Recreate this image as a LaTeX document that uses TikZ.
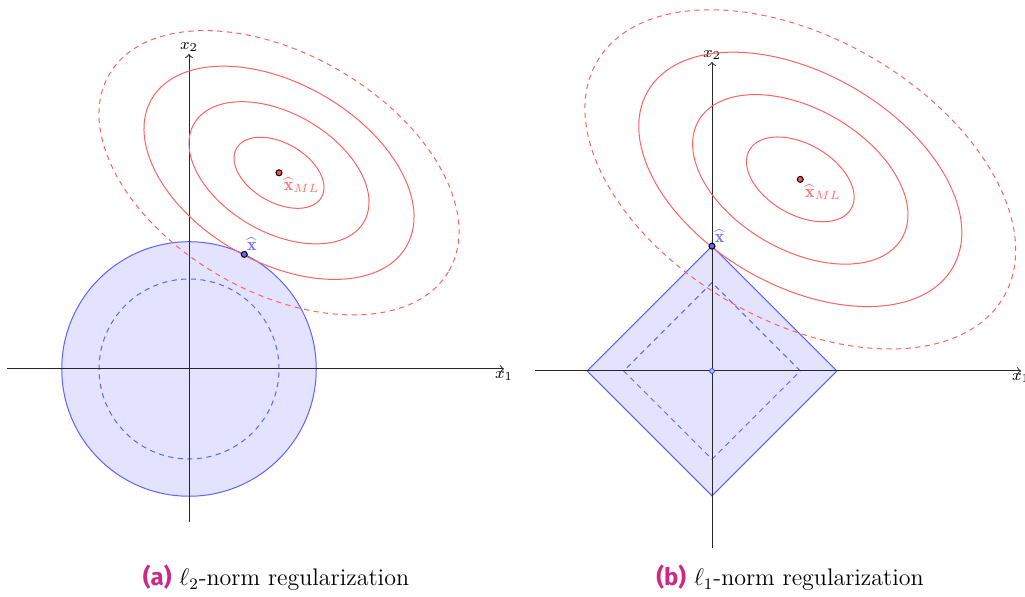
\documentclass[tikz,border=0pt]{standalone}
\usepackage{amsmath,amssymb}
\usepackage{fontspec}
\newfontfamily\tagfont{Fira Sans}
\usepackage{xcolor}
\usepackage{tikz}
\usetikzlibrary{positioning}
\definecolor{tagpink}{RGB}{205,40,135}
\tikzset{
  axisline/.style={->,line width=0.5pt,black!85},
  levelline/.style={line width=0.5pt,red!62},
  outerlevel/.style={levelline,dash pattern=on 2.6pt off 2.2pt},
  ballregion/.style={line width=0.5pt,draw=blue!62,fill=blue!11},
  innerball/.style={line width=0.5pt,blue!62,dash pattern=on 2.6pt off 2.2pt},
  mlpoint/.style={circle,draw=black,fill=red!70,line width=0.5pt,
    minimum size=3pt,inner sep=0pt},
  estpoint/.style={circle,draw=black,fill=blue!60,line width=0.5pt,
    minimum size=3pt,inner sep=0pt},
  originpoint/.style={circle,draw=blue!70,fill=blue!25,line width=0.5pt,
    minimum size=2.4pt,inner sep=0pt},
  axislabel/.style={font=\fontsize{8}{9}\selectfont,inner sep=1pt},
  mllabel/.style={font=\fontsize{9}{10}\selectfont,text=red!55,inner sep=1pt},
  estlabel/.style={font=\fontsize{9}{10}\selectfont,text=blue!55,inner sep=1pt},
  captext/.style={font=\fontsize{12}{14}\selectfont,inner sep=0pt,anchor=base}
}

\begin{document}
\begin{tikzpicture}
  \useasboundingbox (0,0) rectangle (512.5pt,298.5pt);

  \begin{scope}[shift={(94.5pt,114pt)},x=45pt,y=45pt]
    \draw[ballregion] (0,0) circle [radius=1.414];
    \draw[innerball] (0,0) circle [radius=1];
    \coordinate (xA0) at (-2.02,0);
    \coordinate (xA1) at (3.5,0);
    \coordinate (yA0) at (0,-1.7);
    \coordinate (yA1) at (0,3.5);
    \draw[axisline] (xA0) -- (xA1);
    \draw[axisline] (yA0) -- (yA1);
    \node[axislabel,anchor=north] (xlabA) at (xA1) {$x_1$};
    \node[axislabel,anchor=south] (ylabA) at (yA1) {$x_2$};
    \coordinate (cA) at (1.0,2.18);
    \foreach \k in {1,2,3}
      \draw[levelline,rotate around={-30:(cA)}] (cA)
        ellipse [x radius=0.545*\k, y radius=0.33*\k];
    \draw[outerlevel,rotate around={-30:(cA)}] (cA)
      ellipse [x radius=2.18, y radius=1.32];
    \node[mlpoint] (mlA) at (cA) {};
    \node[estpoint] (estA) at (64.25:1.414) {};
    \node[mllabel,below right=0pt and 0pt of mlA] (mltA)
      {$\widehat{\mathbf{x}}_{ML}$};
    \node[estlabel,above right=-0.5pt and -1pt of estA] (esttA)
      {$\widehat{\mathbf{x}}$};
  \end{scope}

  \begin{scope}[shift={(356pt,113pt)},x=44.15pt,y=44.15pt]
    \draw[ballregion] (1.414,0) -- (0,1.414) -- (-1.414,0) -- (0,-1.414) -- cycle;
    \draw[innerball] (1,0) -- (0,1) -- (-1,0) -- (0,-1) -- cycle;
    \coordinate (xB0) at (-2,0);
    \coordinate (xB1) at (3.5,0);
    \coordinate (yB0) at (0,-2);
    \coordinate (yB1) at (0,3.5);
    \draw[axisline] (xB0) -- (xB1);
    \draw[axisline] (yB0) -- (yB1);
    \node[axislabel,anchor=north] (xlabB) at (xB1) {$x_1$};
    \node[axislabel,anchor=south] (ylabB) at (yB1) {$x_2$};
    \node[originpoint] (orgB) at (0,0) {};
    \coordinate (cB) at (1.0,2.17);
    \foreach \k in {1,2,3}
      \draw[levelline,rotate around={-30:(cB)}] (cB)
        ellipse [x radius=0.665*\k, y radius=0.40*\k];
    \draw[outerlevel,rotate around={-30:(cB)}] (cB)
      ellipse [x radius=2.66, y radius=1.60];
    \node[mlpoint] (mlB) at (cB) {};
    \node[estpoint] (estB) at (0,1.414) {};
    \node[mllabel,below right=0pt and 0pt of mlB] (mltB)
      {$\widehat{\mathbf{x}}_{ML}$};
    \node[estlabel,above right=-0.5pt and -1pt of estB] (esttB)
      {$\widehat{\mathbf{x}}$};
  \end{scope}

  \node[captext] (capA) at (138pt,5.5pt)
    {{\tagfont\bfseries\color{tagpink}(a)}\ $\ell_2$-norm regularization};
  \node[captext] (capB) at (395pt,5.5pt)
    {{\tagfont\bfseries\color{tagpink}(b)}\ $\ell_1$-norm regularization};
\end{tikzpicture}
\end{document}
